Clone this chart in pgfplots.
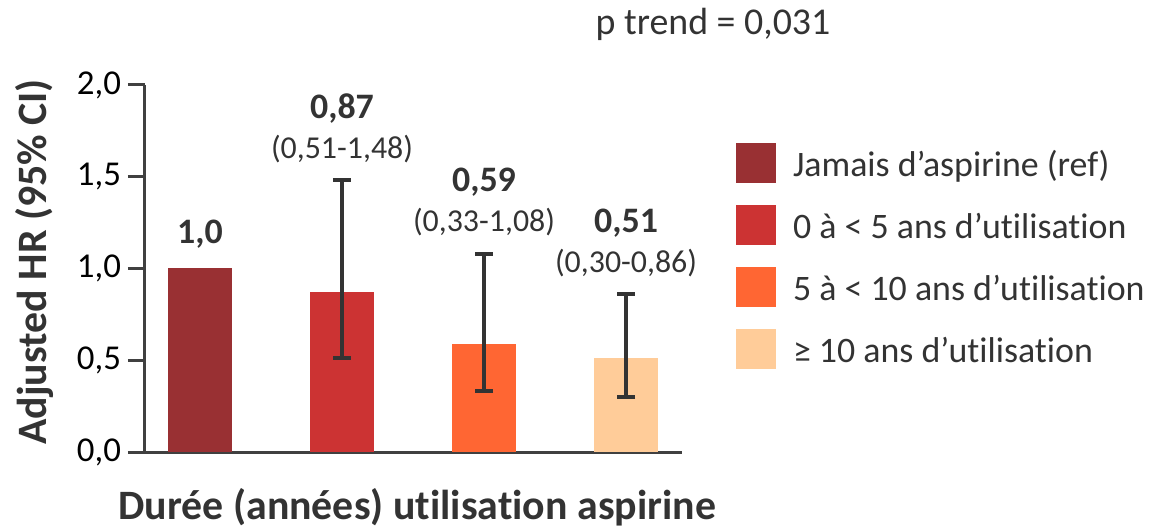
\documentclass[border=0pt]{standalone}
\usepackage{fontspec}
\setmainfont{Carlito}[Ligatures={NoCommon}]
\usepackage{pgfplots}
\pgfplotsset{compat=1.18}

\definecolor{jamais}{HTML}{993033}
\definecolor{moins5}{HTML}{CC3333}
\definecolor{moins10}{HTML}{FF6633}
\definecolor{plus10}{HTML}{FFCC99}
\definecolor{axisgray}{HTML}{404040}
\definecolor{txt}{HTML}{333333}

\begin{document}
\begin{tikzpicture}
\useasboundingbox (-72.5bp,-39.5bp) rectangle (509bp,226bp);
\begin{axis}[
  at={(0,0)}, anchor=south west,
  scale only axis, width=268.5bp, height=183.5bp,
  xmin=-0.387, xmax=3.394, ymin=0, ymax=2,
  clip=false,
  axis x line*=bottom, axis y line*=left,
  axis line style={draw=axisgray, line width=1.5bp},
  xtick=\empty,
  ytick={0,0.5,1,1.5,2},
  tick align=outside, major tick length=8.5bp,
  tick style={draw=axisgray, line width=1.5bp},
  /pgf/number format/assume math mode=true,
  yticklabel style={/pgf/number format/.cd, use comma, fixed, fixed zerofill, precision=1,
    /tikz/.cd, font=\fontsize{17.5}{20}\selectfont, text=black},
  ybar, bar width=0.45, bar shift=0pt,
  every axis plot/.append style={draw=none},
  error bars/y dir=both, error bars/y explicit,
  error bars/error mark=|,
  error bars/error bar style={draw=txt, line width=2bp},
  error bars/error mark options={draw=txt, line width=2bp, mark size=4.5bp},
  every axis y label/.style={at={(axis description cs:0,0.518)}, xshift=-55bp,
    rotate=90, anchor=center, font=\bfseries\fontsize{21}{25}\selectfont, text=txt},
  every axis x label/.style={at={(axis description cs:0.507,0)}, yshift=-33.5bp,
    anchor=base, font=\bfseries\fontsize{21}{25}\selectfont, text=txt},
  ylabel={Adjusted HR (95\% CI)},
  xlabel={Durée (années) utilisation aspirine},
  legend image code/.code={\fill[#1] (0bp,-7.25bp) rectangle (20bp,12.75bp);},
  legend cell align=left,
  legend style={at={(axis description cs:1.1006,0.842)}, anchor=north west,
    draw=none, fill=none, inner sep=0pt, outer sep=0pt,
    row sep=9.5bp, column sep=8.5bp,
    font=\fontsize{18}{21}\selectfont, text=txt,
    nodes={inner sep=0pt, text height=13bp, text depth=4.5bp}},
]
\addplot[fill=jamais] coordinates {(0,1.0)};
\addlegendentry{Jamais d’aspirine (ref)}
\addplot[fill=moins5] coordinates {(1,0.87) += (0,0.61) -= (0,0.36)};
\addlegendentry{0 à < 5 ans d’utilisation}
\addplot[fill=moins10] coordinates {(2,0.59) += (0,0.49) -= (0,0.26)};
\addlegendentry{5 à < 10 ans d’utilisation}
\addplot[fill=plus10] coordinates {(3,0.51) += (0,0.35) -= (0,0.21)};
\addlegendentry{≥ 10 ans d’utilisation}

\node[anchor=base, inner sep=0pt, text=txt, font=\bfseries\fontsize{18}{21}\selectfont, yshift=12.5bp] at (axis cs:0,1.0) {1,0};
\node[anchor=base, inner sep=0pt, text=txt, font=\bfseries\fontsize{18}{21}\selectfont, yshift=31bp] at (axis cs:1,1.48) {0,87};
\node[anchor=base, inner sep=0pt, text=txt, font=\fontsize{16}{19}\selectfont, yshift=11bp] at (axis cs:1,1.48) {(0,51-1,48)};
\node[anchor=base, inner sep=0pt, text=txt, font=\bfseries\fontsize{18}{21}\selectfont, yshift=31bp] at (axis cs:2,1.08) {0,59};
\node[anchor=base, inner sep=0pt, text=txt, font=\fontsize{16}{19}\selectfont, yshift=11bp] at (axis cs:2,1.08) {(0,33-1,08)};
\node[anchor=base, inner sep=0pt, text=txt, font=\bfseries\fontsize{18}{21}\selectfont, yshift=31bp] at (axis cs:3,0.86) {0,51};
\node[anchor=base, inner sep=0pt, text=txt, font=\fontsize{16}{19}\selectfont, yshift=11bp] at (axis cs:3,0.86) {(0,30-0,86)};
\end{axis}
\node[anchor=base, inner sep=0pt, text=txt, font=\fontsize{19}{22}\selectfont] at (284bp,208.5bp) {p trend = 0,031};
\end{tikzpicture}
\end{document}
